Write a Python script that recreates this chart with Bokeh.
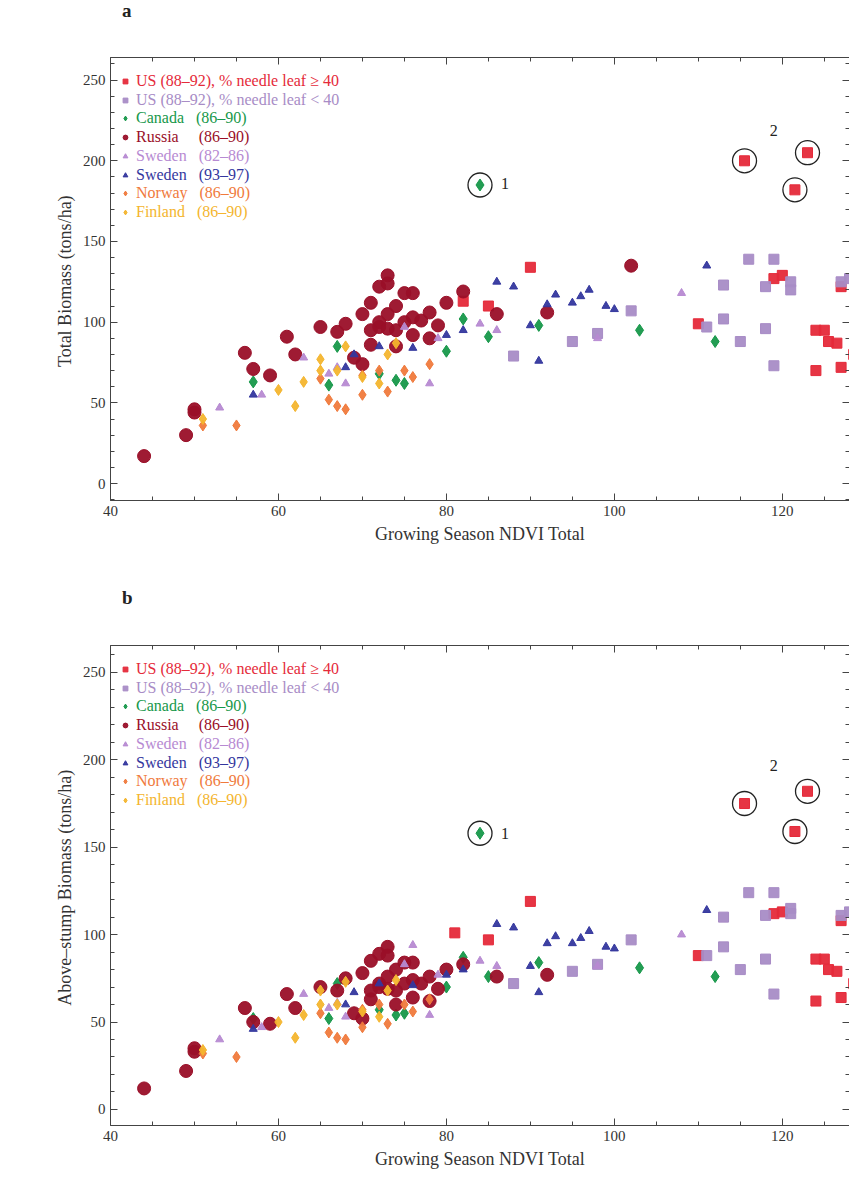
from bokeh.plotting import figure
from bokeh.layouts import column
from bokeh.models import Legend, LegendItem, Range1d, LinearAxis, Div
from bokeh.core.properties import value
from bokeh.embed import file_html
from bokeh.resources import INLINE

FONT = "Liberation Serif"

names = ["US (88\u201392), % needle leaf \u2265 40", "US (88\u201392), % needle leaf < 40",
         "Canada   (86\u201390)", "Russia     (86\u201390)", "Sweden   (82\u201386)",
         "Sweden   (93\u201397)", "Norway   (86\u201390)", "Finland   (86\u201390)"]
colors = ["#e52a3a", "#a88cc6", "#17984a", "#9a0f28", "#b78ad2", "#34379e", "#f07a3c", "#f4b52e"]
markers = ["square", "square", "diamond", "circle", "triangle", "triangle", "diamond", "diamond"]
sizes = [10, 10, 12, 13, 8, 8, 11, 11]

# panel a: total biomass
a_us_hi_x = [82, 85, 90, 110, 115.5, 121.5, 123, 119, 120, 124, 125, 125.5, 126.5, 127, 124, 127, 128.5]
a_us_hi_y = [113, 110, 134, 99, 200, 182, 205, 127, 129, 95, 95, 88, 87, 122, 70, 72, 80]
a_us_lo_x = [88, 95, 98, 102, 111, 113, 113, 115, 116, 118, 119, 118, 119, 121, 121, 127, 128]
a_us_lo_y = [79, 88, 93, 107, 97, 123, 102, 88, 139, 122, 139, 96, 73, 125, 120, 125, 127]
a_can_x = [57, 66, 67, 72, 74, 75, 80, 82, 85, 91, 103, 112, 84]
a_can_y = [63, 61, 85, 68, 64, 62, 82, 102, 91, 98, 95, 88, 185]
a_rus_x = [44, 49, 50, 50, 56, 57, 59, 61, 62, 65, 67, 68, 70, 71, 71, 72, 73, 73, 72, 73, 74, 75, 76,
           74, 75, 76, 77, 78, 79, 80, 82, 86, 92, 102, 69, 70, 76, 78, 74, 72, 71, 73]
a_rus_y = [17, 30, 44, 46, 81, 71, 67, 91, 80, 97, 94, 99, 105, 86, 112, 122, 129, 124, 100, 105, 110, 118, 118,
           95, 100, 103, 101, 106, 98, 112, 119, 105, 106, 135, 78, 74, 92, 90, 85, 97, 95, 96]
a_sw1_x = [53, 58, 63, 66, 67, 75, 79, 84, 86, 78, 98, 108, 68]
a_sw1_y = [47, 55, 78, 68, 72, 97, 90, 99, 95, 62, 90, 118, 62]
a_sw2_x = [57, 68, 69, 72, 76, 80, 82, 86, 88, 90, 91, 92, 93, 95, 96, 97, 99, 100, 111]
a_sw2_y = [55, 72, 80, 85, 84, 92, 95, 125, 122, 98, 76, 111, 117, 112, 116, 120, 110, 108, 135]
a_nor_x = [51, 55, 66, 67, 68, 70, 70, 72, 73, 75, 76, 78, 65]
a_nor_y = [36, 36, 52, 48, 46, 55, 67, 70, 57, 70, 66, 74, 65]
a_fin_x = [51, 60, 62, 63, 65, 65, 67, 68, 70, 72, 74, 73]
a_fin_y = [40, 58, 48, 63, 70, 77, 70, 85, 66, 62, 87, 80]

# panel b: above-stump biomass
b_us_hi_x = [81, 85, 90, 110, 115.5, 121.5, 123, 119, 120, 124, 125, 125.5, 126.5, 127, 124, 127, 128.5]
b_us_hi_y = [101, 97, 119, 88, 175, 159, 182, 112, 113, 86, 86, 80, 79, 108, 62, 64, 72]
b_us_lo_x = [88, 95, 98, 102, 111, 113, 113, 115, 116, 118, 119, 118, 119, 121, 121, 127, 128]
b_us_lo_y = [72, 79, 83, 97, 88, 110, 93, 80, 124, 111, 124, 86, 66, 115, 112, 111, 113]
b_can_x = [57, 66, 67, 72, 74, 75, 80, 82, 85, 91, 103, 112, 84]
b_can_y = [52, 52, 72, 57, 54, 55, 70, 87, 76, 84, 81, 76, 158]
b_rus_x = [44, 49, 50, 50, 56, 57, 59, 61, 62, 65, 67, 68, 70, 71, 71, 72, 73, 73, 72, 73, 74, 75, 76,
           74, 75, 76, 77, 78, 79, 80, 82, 86, 92, 69, 70, 76, 78, 74, 72, 71, 73]
b_rus_y = [12, 22, 33, 35, 58, 50, 49, 66, 58, 70, 68, 75, 78, 63, 85, 89, 93, 88, 72, 76, 80, 84, 84,
           68, 72, 74, 72, 76, 69, 80, 83, 76, 77, 55, 52, 64, 62, 60, 70, 68, 69]
b_sw1_x = [53, 58, 63, 66, 67, 75, 79, 84, 86, 78, 98, 108, 68, 76]
b_sw1_y = [40, 47, 66, 58, 61, 83, 77, 85, 82, 54, 82, 100, 53, 94]
b_sw2_x = [57, 68, 69, 72, 76, 80, 82, 86, 88, 90, 91, 92, 93, 95, 96, 97, 99, 100, 111]
b_sw2_y = [46, 60, 67, 72, 71, 77, 80, 106, 104, 82, 67, 95, 99, 95, 98, 102, 93, 92, 114]
b_nor_x = [51, 55, 66, 67, 68, 70, 70, 72, 73, 75, 76, 78, 65]
b_nor_y = [32, 30, 44, 41, 40, 47, 57, 60, 49, 60, 56, 63, 55]
b_fin_x = [51, 60, 62, 63, 65, 65, 67, 68, 70, 72, 74, 73]
b_fin_y = [34, 50, 41, 54, 60, 68, 60, 73, 56, 53, 74, 68]

a_series = [(a_us_hi_x, a_us_hi_y), (a_us_lo_x, a_us_lo_y), (a_can_x, a_can_y), (a_rus_x, a_rus_y),
            (a_sw1_x, a_sw1_y), (a_sw2_x, a_sw2_y), (a_nor_x, a_nor_y), (a_fin_x, a_fin_y)]
b_series = [(b_us_hi_x, b_us_hi_y), (b_us_lo_x, b_us_lo_y), (b_can_x, b_can_y), (b_rus_x, b_rus_y),
            (b_sw1_x, b_sw1_y), (b_sw2_x, b_sw2_y), (b_nor_x, b_nor_y), (b_fin_x, b_fin_y)]

# circled outliers
a_ring_x = [84, 115.5, 121.5, 123]
a_ring_y = [185, 200, 182, 205]
b_ring_x = [84, 115.5, 121.5, 123]
b_ring_y = [158, 175, 159, 182]
a_lab = (["1", "2"], [86.5, 118.5], [186, 219])
b_lab = (["1", "2"], [86.5, 118.5], [158, 197])


def style_axis(ax, labels=True):
    ax.major_tick_in = 7
    ax.major_tick_out = 0
    ax.minor_tick_in = 4
    ax.minor_tick_out = 0
    ax.axis_line_color = "#444444"
    ax.major_tick_line_color = "#444444"
    ax.minor_tick_line_color = "#444444"
    ax.major_label_text_font = FONT
    ax.major_label_text_font_size = "15px"
    ax.major_label_text_color = "#333333"
    ax.axis_label_text_font = FONT
    ax.axis_label_text_font_size = "18px"
    ax.axis_label_text_font_style = "normal"
    ax.axis_label_text_color = "#333333"
    if not labels:
        ax.major_label_text_font_size = "0px"


def panel(series, ring_x, ring_y, lab, ylabel, height, btop, bbot, yr):
    p = figure(width=849, height=height, output_backend="svg", toolbar_location=None,
               x_range=Range1d(40, 128), y_range=Range1d(*yr),
               min_border_left=110, min_border_right=0, min_border_top=btop, min_border_bottom=bbot)
    p.grid.visible = False
    p.outline_line_color = None
    p.xaxis.axis_label = "Growing Season NDVI Total"
    p.yaxis.axis_label = ylabel
    p.xaxis.ticker.desired_num_ticks = 5
    p.xaxis.ticker.num_minor_ticks = 4
    p.yaxis.ticker.num_minor_ticks = 5
    style_axis(p.xaxis[0])
    style_axis(p.yaxis[0])
    top = LinearAxis()
    right = LinearAxis()
    style_axis(top, False)
    style_axis(right, False)
    top.ticker.num_minor_ticks = 4
    right.ticker.num_minor_ticks = 5
    p.add_layout(top, "above")
    p.add_layout(right, "right")

    rends = []
    for (xs, ys), c, m, s in zip(series, colors, markers, sizes):
        r = p.scatter(xs, ys, marker=m, size=s, fill_color=c, line_color=c, fill_alpha=0.95)
        rends.append(r)
    p.scatter(ring_x, ring_y, marker="circle", size=24, fill_color=None, line_color="#222222", line_width=1.3)
    p.text(lab[1], lab[2], text=lab[0], text_font_size="16px", text_baseline="middle",
           text_font=value(FONT), text_color="#222222")

    frame_h = height - btop - bbot
    for i, (n, c, r) in enumerate(zip(names, colors, rends)):
        lg = Legend(items=[LegendItem(label=n, renderers=[r])], location=(9, frame_h - 25 - i * 18.7 - 8),
                    padding=0, margin=0, spacing=0, glyph_width=12, glyph_height=16, label_standoff=5,
                    border_line_color=None, background_fill_alpha=0, label_text_color=c,
                    label_text_font=FONT, label_text_font_size="16px", label_height=16)
        p.add_layout(lg, "center")
    return p


def letter_div(letter, height):
    return Div(text=letter, width=849, height=height,
               styles={"font-family": FONT, "font-size": "19px", "font-weight": "bold",
                       "color": "#222222", "padding-left": "122px", "margin": "0",
                       "line-height": f"{height}px", "overflow": "visible"})


da = letter_div("a", 22)
pa = panel(a_series, a_ring_x, a_ring_y, a_lab, "Total Biomass  (tons/ha)", 568, 35, 90, (-10.5, 264))
db = letter_div("b", 16)
pb = panel(b_series, b_ring_x, b_ring_y, b_lab, "Above\u2013stump Biomass  (tons/ha)", 566, 39, 47, (-9.2, 265.4))

layout = column(da, pa, db, pb, spacing=0)
open("out.html", "w").write(file_html(layout, INLINE))
